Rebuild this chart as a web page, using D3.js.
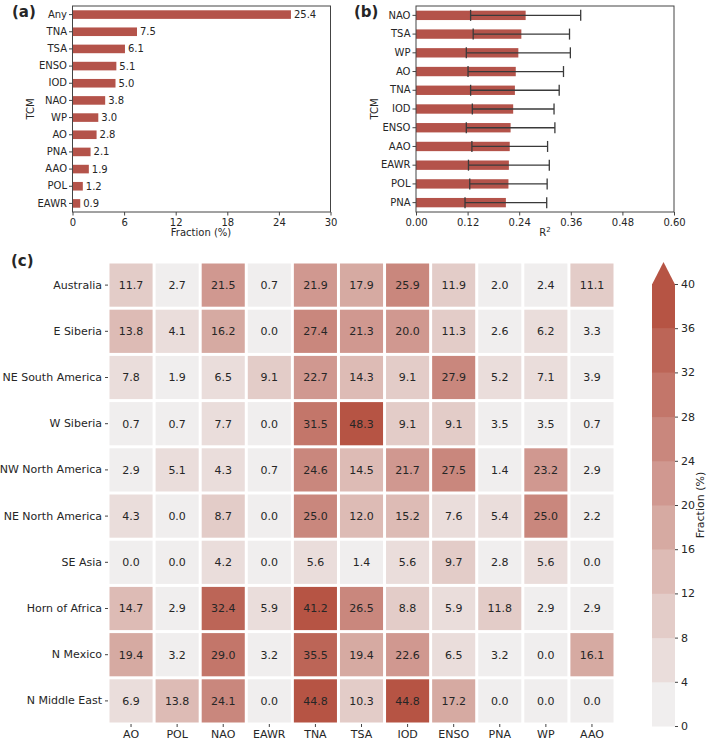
<!DOCTYPE html>
<html lang="en">
<head>
    <meta charset="UTF-8">
    <title>TCM fraction</title>
    <style>
        body { margin: 0; background: #fff; }
        text { font-family: "DejaVu Sans", sans-serif; fill: #262626; }
    </style>
</head>
<body>
    <script src="https://cdn.jsdelivr.net/npm/d3@7"></script>
    <script>
        // panel (a) data
        var aCats = ['Any', 'TNA', 'TSA', 'ENSO', 'IOD', 'NAO', 'WP', 'AO', 'PNA', 'AAO', 'POL', 'EAWR'];
        var aVals = [25.4, 7.5, 6.1, 5.1, 5.0, 3.8, 3.0, 2.8, 2.1, 1.9, 1.2, 0.9];
        var aTicks = [0, 6, 12, 18, 24, 30];

        // panel (b) data
        var bCats = ['NAO', 'TSA', 'WP', 'AO', 'TNA', 'IOD', 'ENSO', 'AAO', 'EAWR', 'POL', 'PNA'];
        var bVals = [0.255, 0.245, 0.238, 0.232, 0.230, 0.226, 0.220, 0.218, 0.216, 0.215, 0.209];
        var bErr = [0.128, 0.112, 0.121, 0.111, 0.103, 0.095, 0.103, 0.088, 0.094, 0.090, 0.095];
        var bTicks = [0, 0.12, 0.24, 0.36, 0.48, 0.60];

        // panel (c) data
        var regions = ['Australia', 'E Siberia', 'NE South America', 'W Siberia', 'NW North America',
            'NE North America', 'SE Asia', 'Horn of Africa', 'N Mexico', 'N Middle East'];
        var modes = ['AO', 'POL', 'NAO', 'EAWR', 'TNA', 'TSA', 'IOD', 'ENSO', 'PNA', 'WP', 'AAO'];
        var fractions = [
            [11.7, 2.7, 21.5, 0.7, 21.9, 17.9, 25.9, 11.9, 2.0, 2.4, 11.1],
            [13.8, 4.1, 16.2, 0.0, 27.4, 21.3, 20.0, 11.3, 2.6, 6.2, 3.3],
            [7.8, 1.9, 6.5, 9.1, 22.7, 14.3, 9.1, 27.9, 5.2, 7.1, 3.9],
            [0.7, 0.7, 7.7, 0.0, 31.5, 48.3, 9.1, 9.1, 3.5, 3.5, 0.7],
            [2.9, 5.1, 4.3, 0.7, 24.6, 14.5, 21.7, 27.5, 1.4, 23.2, 2.9],
            [4.3, 0.0, 8.7, 0.0, 25.0, 12.0, 15.2, 7.6, 5.4, 25.0, 2.2],
            [0.0, 0.0, 4.2, 0.0, 5.6, 1.4, 5.6, 9.7, 2.8, 5.6, 0.0],
            [14.7, 2.9, 32.4, 5.9, 41.2, 26.5, 8.8, 5.9, 11.8, 2.9, 2.9],
            [19.4, 3.2, 29.0, 3.2, 35.5, 19.4, 22.6, 6.5, 3.2, 0.0, 16.1],
            [6.9, 13.8, 24.1, 0.0, 44.8, 10.3, 44.8, 17.2, 0.0, 0.0, 0.0]
        ];
        var levels = [0, 4, 8, 12, 16, 20, 24, 28, 32, 36, 40];

        var barColor = '#b4534a';
        var axisColor = '#444';

        var svg = d3.select('body').append('svg').attr('width', 709).attr('height', 742);

        // 10 colour bands; values above 40 reuse the top band
        var colors = d3.range(10).map(function (i) {
            return d3.interpolateRgb('#f0eeee', '#b65444')(i / 9);
        });
        var color = d3.scaleThreshold().domain(levels.slice(1, -1)).range(colors);

        function frame(g, x0, x1, y0, y1) {
            g.append('rect').attr('x', x0).attr('y', y0).attr('width', x1 - x0).attr('height', y1 - y0)
                .attr('fill', 'none').attr('stroke', axisColor).attr('stroke-width', 1);
        }

        function styleAxis(ax) {
            ax.select('.domain').remove();
            ax.selectAll('.tick line').attr('stroke', axisColor);
            ax.selectAll('.tick text').attr('font-size', 10).attr('fill', '#262626')
                .attr('font-family', '"DejaVu Sans", sans-serif');
        }

        // ---------- panel (a)
        var ga = svg.append('g');
        var xa = d3.scaleLinear().domain([0, 30]).range([72.5, 330.5]);
        var ya = d3.scaleBand().domain(aCats).range([6, 212]).paddingInner(0.5).paddingOuter(0.25);

        ga.selectAll('rect.bar').data(aVals).enter().append('rect').attr('class', 'bar')
            .attr('x', xa(0)).attr('y', function (d, i) { return ya(aCats[i]); })
            .attr('width', function (d) { return xa(d) - xa(0); }).attr('height', ya.bandwidth())
            .attr('fill', barColor);
        ga.selectAll('text.val').data(aVals).enter().append('text').attr('class', 'val')
            .attr('x', function (d) { return xa(d) + 3; })
            .attr('y', function (d, i) { return ya(aCats[i]) + ya.bandwidth() / 2; })
            .attr('dy', '0.35em').attr('font-size', 10).text(function (d) { return d.toFixed(1); });

        styleAxis(ga.append('g').attr('transform', 'translate(0,212)')
            .call(d3.axisBottom(xa).tickValues(aTicks).tickSize(3.5).tickPadding(3)));
        styleAxis(ga.append('g').attr('transform', 'translate(72.5,0)')
            .call(d3.axisLeft(ya).tickSize(3.5).tickPadding(2)));
        frame(ga, 72.5, 330.5, 6, 212);
        ga.append('text').attr('x', 201).attr('y', 236).attr('text-anchor', 'middle').attr('font-size', 10).text('Fraction (%)');
        ga.append('text').attr('transform', 'translate(34,109) rotate(-90)').attr('text-anchor', 'middle')
            .attr('font-size', 10).text('TCM');
        ga.append('text').attr('x', 12).attr('y', 17).attr('font-size', 15).attr('font-weight', 'bold').text('(a)');

        // ---------- panel (b)
        var gb = svg.append('g');
        var xb = d3.scaleLinear().domain([0, 0.6]).range([416, 674]);
        var yb = d3.scaleBand().domain(bCats).range([6, 212]).paddingInner(0.5).paddingOuter(0.25);

        gb.selectAll('rect.bar').data(bVals).enter().append('rect').attr('class', 'bar')
            .attr('x', xb(0)).attr('y', function (d, i) { return yb(bCats[i]); })
            .attr('width', function (d) { return xb(d) - xb(0); }).attr('height', yb.bandwidth())
            .attr('fill', barColor);
        var eb = gb.selectAll('g.err').data(bVals).enter().append('g').attr('class', 'err')
            .attr('stroke', '#3a3a3a').attr('stroke-width', 1.3);
        eb.append('line')
            .attr('x1', function (d, i) { return xb(d - bErr[i]); })
            .attr('x2', function (d, i) { return xb(d + bErr[i]); })
            .attr('y1', function (d, i) { return yb(bCats[i]) + yb.bandwidth() / 2; })
            .attr('y2', function (d, i) { return yb(bCats[i]) + yb.bandwidth() / 2; });
        [-1, 1].forEach(function (s) {
            eb.append('line')
                .attr('x1', function (d, i) { return xb(d + s * bErr[i]); })
                .attr('x2', function (d, i) { return xb(d + s * bErr[i]); })
                .attr('y1', function (d, i) { return yb(bCats[i]) + yb.bandwidth() / 2 - 5.5; })
                .attr('y2', function (d, i) { return yb(bCats[i]) + yb.bandwidth() / 2 + 5.5; });
        });

        styleAxis(gb.append('g').attr('transform', 'translate(0,212)')
            .call(d3.axisBottom(xb).tickValues(bTicks).tickFormat(d3.format('.2f')).tickSize(3.5).tickPadding(3)));
        styleAxis(gb.append('g').attr('transform', 'translate(416,0)')
            .call(d3.axisLeft(yb).tickSize(3.5).tickPadding(2)));
        frame(gb, 416, 674, 6, 212);
        var rl = gb.append('text').attr('x', 545).attr('y', 236).attr('text-anchor', 'middle').attr('font-size', 10);
        rl.append('tspan').text('R');
        rl.append('tspan').attr('dy', -4).attr('font-size', 7).text('2');
        gb.append('text').attr('transform', 'translate(378,109) rotate(-90)').attr('text-anchor', 'middle')
            .attr('font-size', 10).text('TCM');
        gb.append('text').attr('x', 354).attr('y', 17).attr('font-size', 15).attr('font-weight', 'bold').text('(b)');

        // ---------- panel (c) heatmap
        var gc = svg.append('g');
        var xc = d3.scaleBand().domain(modes).range([108, 615]);
        var yc = d3.scaleBand().domain(regions).range([262, 724]);
        var gap = 1.5;

        var rows = gc.selectAll('g.row').data(fractions).enter().append('g').attr('class', 'row')
            .attr('transform', function (d, i) { return 'translate(0,' + yc(regions[i]) + ')'; });
        rows.selectAll('rect').data(function (d) { return d; }).enter().append('rect')
            .attr('x', function (d, j) { return xc(modes[j]) + gap; })
            .attr('y', gap)
            .attr('width', xc.bandwidth() - 2 * gap).attr('height', yc.bandwidth() - 2 * gap)
            .attr('fill', function (d) { return color(d); });
        rows.selectAll('text').data(function (d) { return d; }).enter().append('text')
            .attr('x', function (d, j) { return xc(modes[j]) + xc.bandwidth() / 2; })
            .attr('y', yc.bandwidth() / 2).attr('dy', '0.35em')
            .attr('text-anchor', 'middle').attr('font-size', 11)
            .text(function (d) { return d.toFixed(1); });

        var axc = gc.append('g').attr('transform', 'translate(108,0)')
            .call(d3.axisLeft(yc).tickSize(3).tickPadding(3));
        styleAxis(axc);
        axc.selectAll('.tick text').attr('font-size', 11);
        var bxc = gc.append('g').attr('transform', 'translate(0,724)')
            .call(d3.axisBottom(xc).tickSize(3).tickPadding(3));
        styleAxis(bxc);
        bxc.selectAll('.tick text').attr('font-size', 11);
        gc.append('text').attr('x', 11).attr('y', 266).attr('font-size', 15).attr('font-weight', 'bold').text('(c)');

        // ---------- colour bar
        var cb = svg.append('g');
        var yl = d3.scaleLinear().domain([0, 40]).range([726, 284]);
        var cbx = 652, cbw = 23;
        cb.selectAll('rect').data(levels.slice(0, -1)).enter().append('rect')
            .attr('x', cbx).attr('width', cbw)
            .attr('y', function (d) { return yl(d + 4); })
            .attr('height', function (d) { return yl(d) - yl(d + 4) + 0.5; })
            .attr('fill', function (d) { return color(d); });
        cb.append('path')
            .attr('d', 'M' + cbx + ',' + (yl(40) + 0.5) + 'L' + (cbx + cbw / 2) + ',' + (yl(40) - 22) + 'L' + (cbx + cbw) + ',' + (yl(40) + 0.5) + 'Z')
            .attr('fill', colors[9]);
        var cax = cb.append('g').attr('transform', 'translate(' + (cbx + cbw) + ',0)')
            .call(d3.axisRight(yl).tickValues(levels).tickSize(3).tickPadding(3));
        styleAxis(cax);
        cax.selectAll('.tick text').attr('font-size', 11);
        cb.append('text').attr('transform', 'translate(704,505) rotate(-90)').attr('text-anchor', 'middle')
            .attr('font-size', 11).text('Fraction (%)');
    </script>
</body>
</html>
